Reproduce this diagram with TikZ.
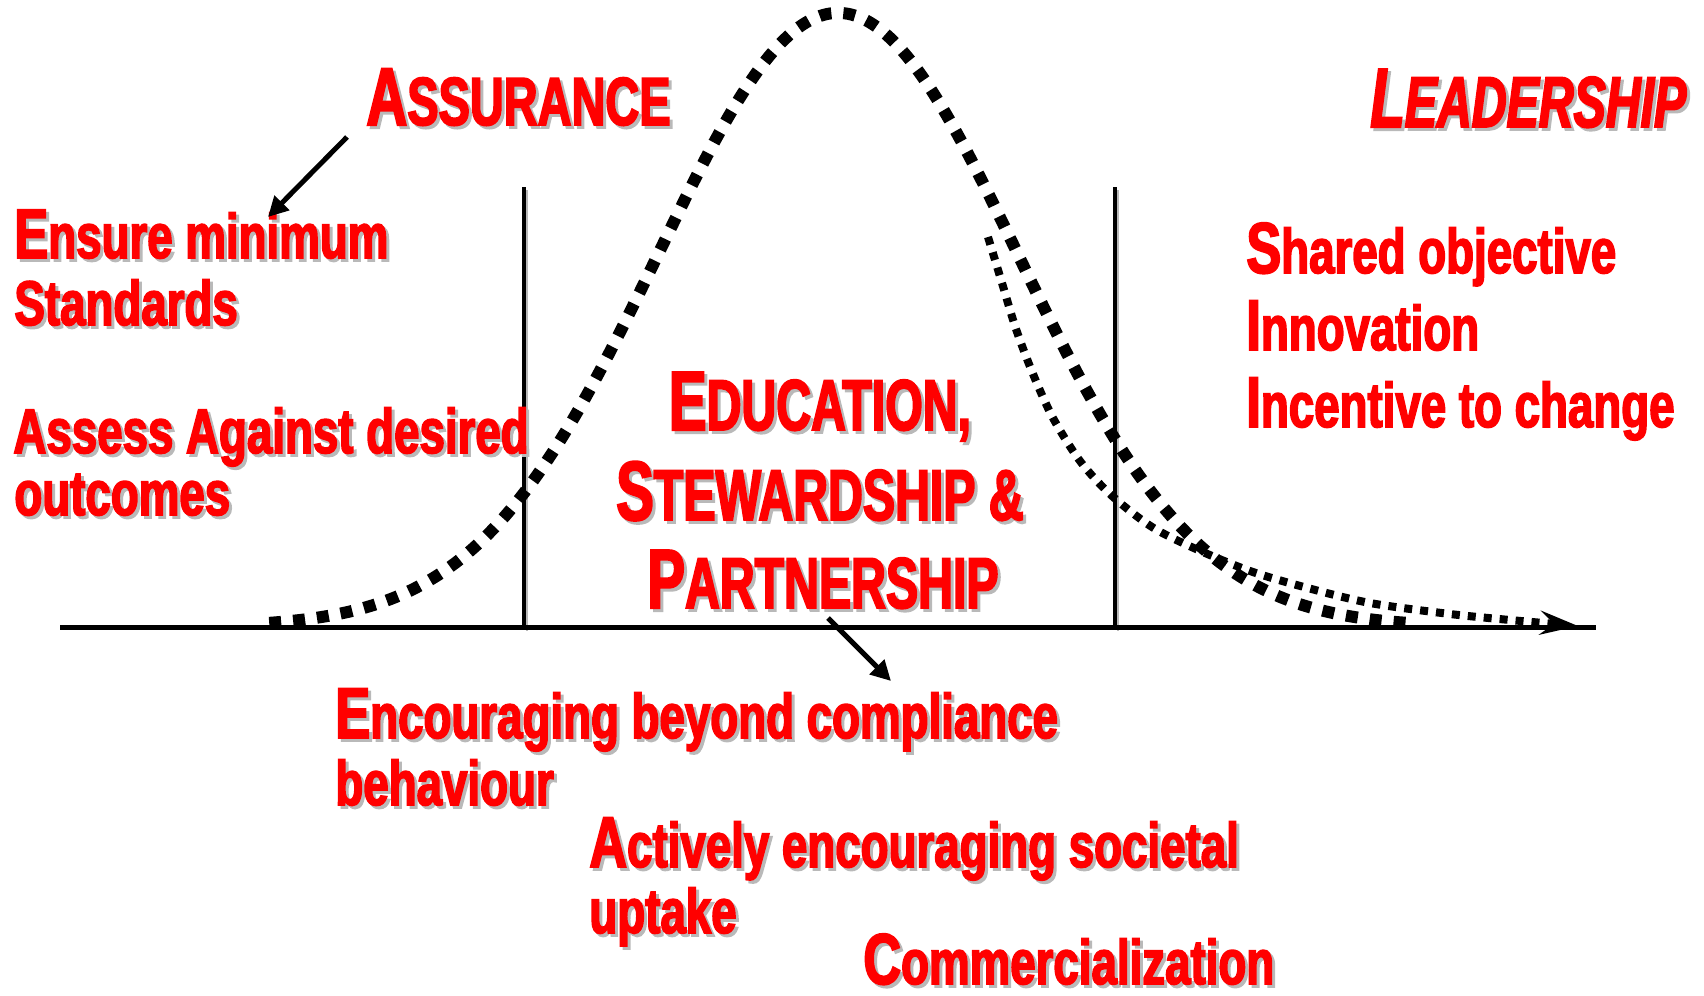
\documentclass[tikz,border=0pt]{standalone}
\usepackage{fontspec}
\usetikzlibrary{arrows.meta}
\newfontfamily\imp{Liberation Sans}[FakeStretch=0.725,FakeBold=2.5]
\newfontfamily\impc{Liberation Sans}[FakeStretch=0.67,FakeBold=2.5]
\newfontfamily\impa{Liberation Sans}[FakeStretch=0.69,FakeBold=2.5]
\definecolor{shdgray}{RGB}{185,185,185}
\definecolor{tred}{RGB}{255,0,0}
\newcommand\shd[1]{\leavevmode\rlap{\hspace{1.5pt}\raisebox{-1.5pt}{\color{shdgray}#1}}#1}
\newcommand\fs[1]{\fontsize{#1}{#1}\selectfont}
\begin{document}
\begin{tikzpicture}[x=0.5pt,y=-0.5pt,
  txt/.style={text=tred, inner sep=0pt, anchor=base west, font=\imp\bfseries\fs{31.5}},
  hd/.style={text=tred, inner sep=0pt, anchor=base west, font=\impc\bfseries},
  axisline/.style={line width=2.5pt},
  vline/.style={line width=2pt},
  vshadow/.style={line width=1.2pt, shdgray},
  ptr/.style={line width=2.5pt, -{Triangle[length=10pt,width=10pt]}},
  maincurve/.style={line width=6pt, dash pattern=on 6pt off 6pt},
  tailcurve/.style={line width=4pt, dash pattern=on 4pt off 4pt, -{Stealth[length=19pt,width=12pt,inset=7pt]}}]
\useasboundingbox (0,0) rectangle (1704,996);

% axis and vertical dividers
\coordinate (axL) at (60,627);
\coordinate (axR) at (1596,627);
\coordinate (v1t) at (524,187);
\coordinate (v1b) at (524,627);
\coordinate (v2t) at (1115,187);
\coordinate (v2b) at (1115,627);
\coordinate (v1st) at (527,190);
\coordinate (v1sb) at (527,631);
\coordinate (v2st) at (1118,190);
\coordinate (v2sb) at (1118,631);
\draw[vshadow] (v1st) -- (v1sb);
\draw[vshadow] (v2st) -- (v2sb);
\draw[vline] (v1t) -- (v1b);
\draw[vline] (v2t) -- (v2b);
\draw[axisline] (axL) -- (axR);

% bell curve
\draw[maincurve] plot[domain=-3.16:3.16, samples=160, smooth] ({838+180*\x}, {627-614*exp(-0.5*\x*\x)});

% long-tail curve with arrow
\draw[tailcurve] plot[smooth] coordinates {(988,237) (1002,283) (1016,329) (1033,374) (1053,418) (1080,461) (1111,495) (1152,527) (1196,549) (1250,571) (1304,587) (1370,603) (1450,614) (1510,620) (1578,626)};

% headings
\node[hd, font=\impa\bfseries] (assur) at (366,125) {\shd{\fs{41}A\fs{34}SSURANCE}};
\node[hd, font=\impc\bfseries\itshape] (lead) at (1370,127) {\shd{\fs{42}L\fs{36}EADERSHIP}};
\node[hd, anchor=base] (edu1) at (820,430) {\shd{\fs{42}E\fs{36}DUCATION,}};
\node[hd, anchor=base] (edu2) at (820,520) {\shd{\fs{42}S\fs{36}TEWARDSHIP \&}};
\node[hd, anchor=base] (edu3) at (823,608) {\shd{\fs{42}P\fs{36}ARTNERSHIP}};

% left block
\node[txt] (l1) at (14,258) {\shd{{\fs{35}E}nsure minimum}};
\node[txt] (l2) at (14,325) {\shd{Standards}};
\node[txt] (l3) at (13,453) {\shd{Assess Against desired}};
\node[txt] (l4) at (14,515) {\shd{outcomes}};

% right block
\node[txt] (r1) at (1246,273) {{\fs{36}S}hared objective};
\node[txt] (r2) at (1246,350) {{\fs{36}I}nnovation};
\node[txt] (r3) at (1246,427) {{\fs{36}I}ncentive to change};

% bottom block
\node[txt] (b1) at (335,738) {\shd{{\fs{36}E}ncouraging beyond compliance}};
\node[txt] (b2) at (335,805) {\shd{behaviour}};
\node[txt] (b3) at (589,867) {\shd{{\fs{36}A}ctively encouraging societal}};
\node[txt] (b4) at (589,933) {\shd{uptake}};
\node[txt] (b5) at (863,984) {\shd{{\fs{36}C}ommercialization}};

% pointer arrows
\coordinate (a1s) at (347,137);
\coordinate (a1e) at (268,217);
\coordinate (a2s) at (828,618);
\coordinate (a2e) at (891,681);
\draw[ptr] (a1s) -- (a1e);
\draw[ptr] (a2s) -- (a2e);
\end{tikzpicture}
\end{document}
